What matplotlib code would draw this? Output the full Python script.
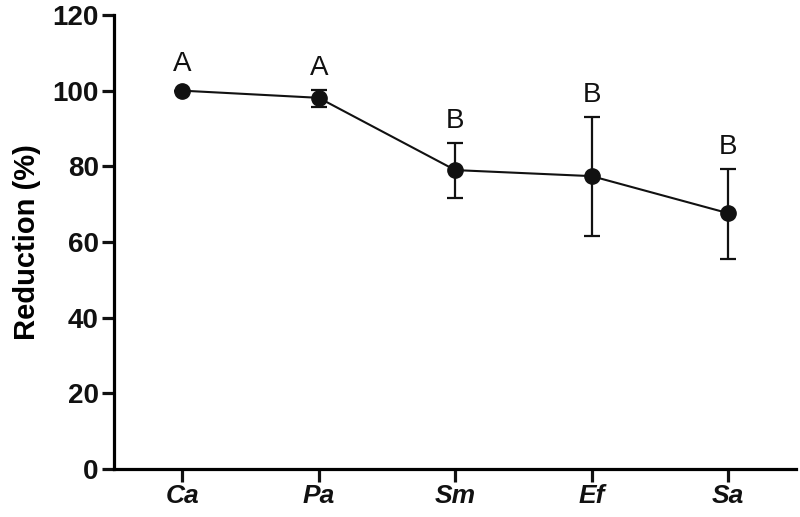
import matplotlib
matplotlib.use("Agg")
import matplotlib.pyplot as plt

# data
groups = ["Ca", "Pa", "Sm", "Ef", "Sa"]
reduction = [100.0, 98.1, 79.0, 77.4, 67.6]
err_low = [0.0, 2.4, 7.5, 15.8, 12.0]
err_high = [0.0, 2.0, 7.2, 15.7, 11.8]
letters = ["A", "A", "B", "B", "B"]

plt.rcParams["font.family"] = ["Liberation Sans", "DejaVu Sans"]

fig = plt.figure(figsize=(8, 5.17), dpi=100)
ax = fig.add_axes([0.1425, 0.093, 0.853, 0.878])

x = list(range(len(groups)))
ax.errorbar(x, reduction, yerr=[err_low, err_high], fmt="-o", color="#111111",
            ms=11, lw=1.5, elinewidth=1.6, capsize=6, capthick=1.6)

# significance letters sit just above the cap (or the marker when no error bar)
for i in x:
    top = reduction[i] + err_high[i]
    off = 6.5 if err_high[i] > 0 else 10
    ax.annotate(letters[i], (i, top), xytext=(0, off), textcoords="offset points",
                ha="center", va="bottom", fontsize=20, color="#111111")

ax.set_xlim(-0.5, 4.5)
ax.set_ylim(0, 120)
ax.set_yticks(range(0, 121, 20))
ax.set_xticks(x)
ax.set_xticklabels(groups, fontweight="bold", fontstyle="italic", fontsize=19)
for lab in ax.get_yticklabels():
    lab.set_fontweight("bold")
    lab.set_fontsize(20)
ax.set_ylabel("Reduction (%)", fontweight="bold", fontsize=21, labelpad=8)

for s in ["top", "right"]:
    ax.spines[s].set_visible(False)
for s in ["left", "bottom"]:
    ax.spines[s].set_linewidth(2.3)
ax.tick_params(width=2.3, length=9, direction="out", colors="#111111", pad=2)

fig.savefig("out.png", dpi=100)
